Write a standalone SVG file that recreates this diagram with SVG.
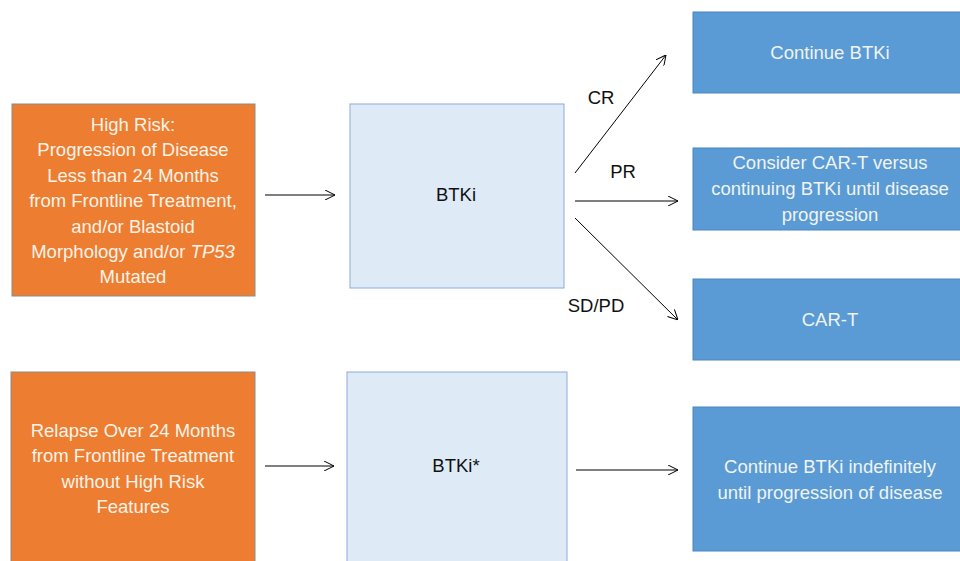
<svg xmlns="http://www.w3.org/2000/svg" width="960" height="561" viewBox="0 0 960 561">
<defs>
<marker id="ah" viewBox="0 0 10 10" refX="10" refY="5" markerWidth="10" markerHeight="10" markerUnits="userSpaceOnUse" orient="auto">
<path d="M0,0 L10,5 L0,10" fill="none" stroke="#000" stroke-width="1"/>
</marker>
<style>
.orange{fill:#ED7D31;stroke:#8C8C8C;stroke-width:1}
.light{fill:#DEEBF7;stroke:#8FAADC;stroke-width:1}
.blue{fill:#5B9BD5;stroke:#4A86BE;stroke-width:1}
text{font-family:"Liberation Sans",Arial,sans-serif;font-size:18.5px;text-anchor:middle}
.wt{fill:#FBF3E8}
.bt{fill:#F0F3F0}
.dk{fill:#111}
.conn line{stroke:#000;stroke-width:1;marker-end:url(#ah)}
</style>
</defs>
<rect width="960" height="561" fill="#fff"/>
<g id="highrisk">
<rect class="orange" x="12" y="104" width="243" height="192"/>
<text class="wt" x="133" y="131">High Risk:</text>
<text class="wt" x="133" y="156">Progression of Disease</text>
<text class="wt" x="133" y="182">Less than 24 Months</text>
<text class="wt" x="133" y="207">from Frontline Treatment,</text>
<text class="wt" x="133" y="233">and/or Blastoid</text>
<text class="wt" x="133" y="258">Morphology and/or <tspan font-style="italic">TP53</tspan></text>
<text class="wt" x="133" y="283">Mutated</text>
</g>
<g id="relapse">
<rect class="orange" x="11" y="372" width="244" height="200"/>
<text class="wt" x="133" y="437">Relapse Over 24 Months</text>
<text class="wt" x="133" y="462">from Frontline Treatment</text>
<text class="wt" x="133" y="488">without High Risk</text>
<text class="wt" x="133" y="513">Features</text>
</g>
<g id="btki1">
<rect class="light" x="350" y="104" width="214" height="184"/>
<text class="dk" x="456" y="201">BTKi</text>
</g>
<g id="btki2">
<rect class="light" x="347" y="372" width="220" height="200"/>
<text class="dk" x="456" y="472">BTKi*</text>
</g>
<g id="continue">
<rect class="blue" x="693" y="12" width="280" height="81"/>
<text class="bt" x="830" y="59">Continue BTKi</text>
</g>
<g id="consider">
<rect class="blue" x="693" y="148" width="280" height="82"/>
<text class="bt" x="830" y="169">Consider CAR-T  versus</text>
<text class="bt" x="830" y="195">continuing BTKi until disease</text>
<text class="bt" x="830" y="221">progression</text>
</g>
<g id="cart">
<rect class="blue" x="693" y="279" width="280" height="81"/>
<text class="bt" x="830" y="326">CAR-T</text>
</g>
<g id="indef">
<rect class="blue" x="693" y="407" width="280" height="144"/>
<text class="bt" x="830" y="473">Continue BTKi indefinitely</text>
<text class="bt" x="830" y="499">until progression of disease</text>
</g>
<g id="connectors" class="conn">
<line x1="265" y1="195" x2="335" y2="195"/>
<line x1="575" y1="173" x2="666" y2="55"/>
<line x1="575" y1="201" x2="678" y2="201"/>
<line x1="575" y1="218" x2="678" y2="320"/>
<line x1="265" y1="466" x2="334" y2="466"/>
<line x1="576" y1="470" x2="678" y2="470"/>
<text class="dk" x="601" y="104">CR</text>
<text class="dk" x="623" y="178">PR</text>
<text class="dk" x="596" y="312">SD/PD</text>
</g>
</svg>
